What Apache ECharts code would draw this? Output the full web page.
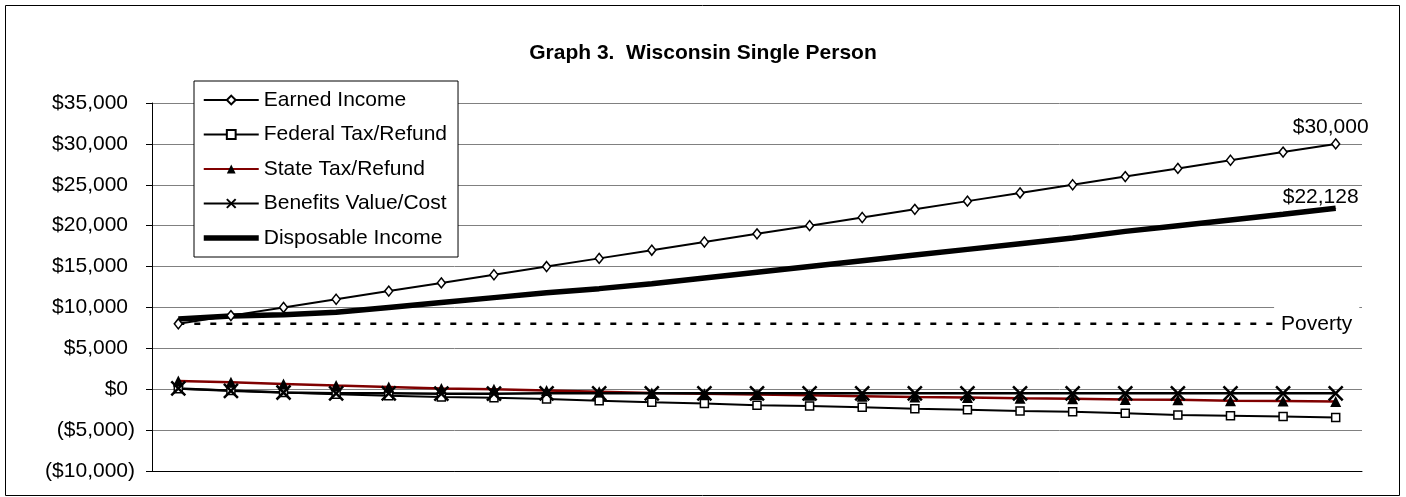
<!DOCTYPE html>
<html>
<head>
<meta charset="utf-8">
<title>Graph 3. Wisconsin Single Person</title>
<script src="https://cdn.jsdelivr.net/npm/echarts@6/dist/echarts.min.js"></script>
<style>
  html, body { margin: 0; padding: 0; background: #fff; }
  #chart { width: 1406px; height: 497px; }
</style>
</head>
<body>
<div id="chart"></div>
<script>
// earned income steps ($8,000 .. $30,000)
var categories = ['8000', '9000', '10000', '11000', '12000', '13000', '14000', '15000', '16000', '17000', '18000', '19000',
  '20000', '21000', '22000', '23000', '24000', '25000', '26000', '27000', '28000', '29000', '30000'];
var earnedIncome = [8000, 9000, 10000, 11000, 12000, 13000, 14000, 15000, 16000, 17000, 18000, 19000,
  20000, 21000, 22000, 23000, 24000, 25000, 26000, 27000, 28000, 29000, 30000];
var federalTax = [50, -150, -400, -600, -800, -950, -1050, -1200, -1400, -1600, -1750, -1950,
  -2050, -2200, -2400, -2500, -2650, -2750, -2950, -3150, -3250, -3350, -3450];
var stateTax = [1000, 850, 650, 450, 280, 100, 0, -150, -300, -450, -550, -650,
  -750, -850, -950, -1000, -1100, -1150, -1250, -1300, -1400, -1450, -1500];
var benefitsValue = [100, -200, -400, -500, -500, -550, -550, -500, -500, -500, -500, -500,
  -500, -500, -500, -500, -500, -500, -500, -500, -500, -500, -500];
var disposableIncome = [8600, 8950, 9100, 9400, 10000, 10600, 11200, 11800, 12300, 12900, 13600, 14300,
  15000, 15700, 16400, 17100, 17800, 18500, 19300, 20000, 20700, 21400, 22128];
var poverty = 8000;
var povertyLine = categories.map(function () { return poverty; });
// y axis ticks
var yMin = -10000, yMax = 35000, yStep = 5000;

var FONT = "'Liberation Sans', Arial, sans-serif";

function money(v) {
  var s = '$' + String(Math.abs(v)).replace(/\B(?=(\d{3})+(?!\d))/g, ',');
  return v < 0 ? '(' + s + ')' : s;
}

// put a label on the last point of a series
function lastLabeled(arr, label, extra) {
  return arr.map(function (v, i) {
    if (i !== arr.length - 1) return v;
    var item = { value: v, label: label };
    for (var k in extra) item[k] = extra[k];
    return item;
  });
}

var myChart = echarts.init(document.getElementById('chart'));
myChart.setOption({
  animation: false,
  textStyle: { fontFamily: FONT },
  title: {
    text: 'Graph 3.  Wisconsin Single Person',
    left: 'center',
    top: 38,
    textStyle: { fontSize: 21, fontWeight: 'bold', color: '#000', fontFamily: FONT }
  },
  graphic: [{
    type: 'rect',
    shape: { x: 5.5, y: 5.5, width: 1394, height: 490 },
    style: { fill: 'none', stroke: '#000', lineWidth: 1 },
    silent: true
  }],
  legend: {
    orient: 'vertical',
    left: 194,
    top: 81,
    itemWidth: 55,
    itemHeight: 11,
    itemGap: 10.5,
    padding: [7, 11, 7, 7],
    backgroundColor: '#fff',
    borderColor: '#000',
    borderWidth: 1,
    selectedMode: false,
    textStyle: { fontSize: 21, color: '#000', lineHeight: 24, fontFamily: FONT },
    data: ['Earned Income', 'Federal Tax/Refund', 'State Tax/Refund', 'Benefits Value/Cost',
      { name: 'Disposable Income', itemStyle: { opacity: 0 }, lineStyle: { width: 5.5, color: '#000' } }]
  },
  grid: { left: 152, right: 44, top: 103, bottom: 26 },
  xAxis: {
    type: 'category',
    data: categories,
    boundaryGap: true,
    axisLine: { show: true, onZero: false, lineStyle: { color: '#000', width: 1 } },
    axisTick: { show: false },
    axisLabel: { show: false },
    splitLine: { show: false }
  },
  yAxis: {
    type: 'value',
    min: yMin,
    max: yMax,
    interval: yStep,
    axisLine: { show: true, lineStyle: { color: '#000', width: 1 } },
    axisTick: { show: true, length: 6, lineStyle: { color: '#000' } },
    axisLabel: {
      margin: 17,
      fontSize: 21,
      color: '#000',
      fontFamily: FONT,
      formatter: function (v) {
        return v < 0 ? money(v) : '{p|' + money(v) + '}';
      },
      rich: { p: { padding: [0, 7, 0, 0], fontSize: 21, color: '#000', fontFamily: FONT } }
    },
    splitLine: { lineStyle: { color: '#808080', width: 1 } }
  },
  series: [
    {
      name: 'Earned Income',
      type: 'line',
      symbol: 'diamond',
      symbolSize: [8, 10],
      itemStyle: { color: '#fff', borderColor: '#000', borderWidth: 1.5 },
      lineStyle: { color: '#000', width: 2 },
      data: lastLabeled(earnedIncome, {
        show: true, position: 'top', distance: 0, offset: [-5, 0],
        fontSize: 21, color: '#000', fontFamily: FONT, lineHeight: 22,
        formatter: function (p) { return money(p.value); }
      })
    },
    {
      name: 'Federal Tax/Refund',
      type: 'line',
      symbol: 'rect',
      symbolSize: 8,
      itemStyle: { color: '#fff', borderColor: '#000', borderWidth: 1.5 },
      lineStyle: { color: '#000', width: 2 },
      data: federalTax
    },
    {
      name: 'State Tax/Refund',
      type: 'line',
      symbol: 'triangle',
      symbolSize: 11,
      itemStyle: { color: '#000' },
      lineStyle: { color: '#800000', width: 2.5 },
      data: stateTax
    },
    {
      name: 'Benefits Value/Cost',
      type: 'line',
      symbol: 'path://M0,0L10,10M10,0L0,10',
      symbolSize: 14,
      itemStyle: { color: '#000', borderColor: '#000', borderWidth: 2.5 },
      lineStyle: { color: '#000', width: 2.5 },
      data: benefitsValue
    },
    {
      name: 'Disposable Income',
      type: 'line',
      symbol: 'none',
      lineStyle: { color: '#000', width: 5.5 },
      itemStyle: { color: '#000' },
      data: lastLabeled(disposableIncome, {
        show: true, position: 'top', distance: 0, offset: [-15, 0],
        fontSize: 21, color: '#000', fontFamily: FONT, lineHeight: 22,
        formatter: function (p) { return money(p.value); }
      }, { symbol: 'circle', symbolSize: 1 })
    },
    {
      name: 'Poverty',
      type: 'line',
      symbol: 'none',
      lineStyle: { color: '#000', width: 2.5, type: [6, 10] },
      itemStyle: { color: '#000' },
      data: lastLabeled(povertyLine, {
        show: true, position: 'inside', offset: [-19, 0],
        fontSize: 21, color: '#000', fontFamily: FONT, lineHeight: 22,
        backgroundColor: '#fff', padding: [7, 7, 5, 7],
        formatter: 'Poverty'
      }, { symbol: 'circle', symbolSize: 1 })
    }
  ]
});
</script>
</body>
</html>
